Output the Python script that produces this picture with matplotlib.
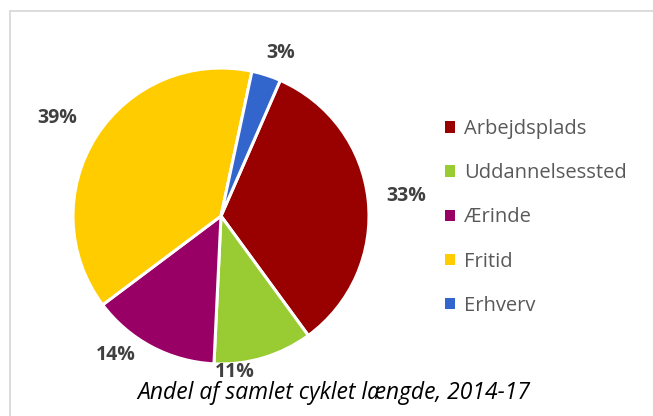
import matplotlib
matplotlib.use("Agg")
import matplotlib.pyplot as plt
from matplotlib.patches import Rectangle

# data
categories = ["Arbejdsplads", "Uddannelsessted", "Ærinde", "Fritid", "Erhverv"]
shares = [33.4, 10.8, 14.0, 38.6, 3.2]
colors = ["#990000", "#99cc33", "#990066", "#ffcc00", "#3366cc"]
title = "Andel af samlet cyklet længde, 2014-17"

# label positions (in pie-radius units), roughly where Excel put them
label_pos = [(1.25, 0.135), (0.09, -1.055), (-0.71, -0.94), (-1.105, 0.66), (0.405, 1.1)]

plt.rcParams["font.family"] = ["Open Sans", "DejaVu Sans"]

fig = plt.figure(figsize=(6.53, 4.16), dpi=100)
W, H = 653, 416
R = 148
cx, cy = 221, 216
L = 1.3
ax = fig.add_axes([(cx - L * R) / W, (H - cy - L * R) / H, 2 * L * R / W, 2 * L * R / H])

wedges, _ = ax.pie(shares, colors=colors, startangle=66.4, counterclock=False,
                   radius=1.0, wedgeprops=dict(edgecolor="white", linewidth=2.2))
# pie() resets the limits, so set them afterwards
ax.set_xlim(-L, L)
ax.set_ylim(-L, L)
ax.set_aspect("equal")
ax.axis("off")

for s, (x, y) in zip(shares, label_pos):
    ax.text(x, y, f"{s:.0f}%", ha="center", va="center", fontsize=14,
            fontweight="bold", color="#404040")

leg = fig.legend(wedges, categories, loc="upper left", bbox_to_anchor=(427 / W, 1 - 101 / H),
                 frameon=False, handlelength=0.5, handleheight=0.5, handletextpad=0.45,
                 labelspacing=1.2, fontsize=14.5)
for t in leg.get_texts():
    t.set_color("#595959")
for h in leg.legend_handles:
    h.set_linewidth(0)

fig.text(334 / W, 1 - 393 / H, title, ha="center", va="center", fontsize=16.5,
         style="italic", color="black")

fig.patches.append(Rectangle((9.5 / W, -0.05), 1.0, (H - 10.5) / H + 0.05,
                             transform=fig.transFigure, fill=False,
                             edgecolor="#d9d9d9", linewidth=1.3))

fig.savefig("out.png", dpi=100)
